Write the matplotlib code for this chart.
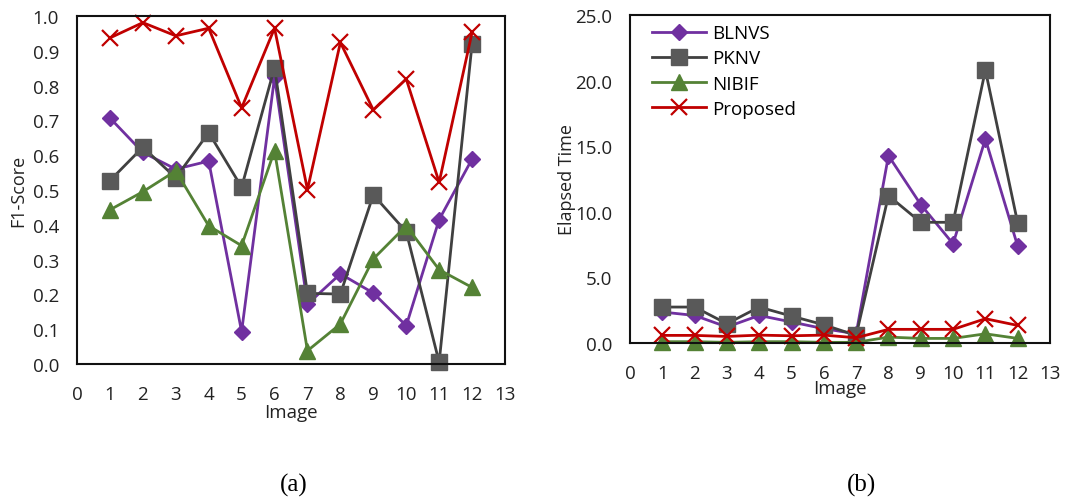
import matplotlib
matplotlib.use("Agg")
import matplotlib.pyplot as plt

plt.rcParams['font.family'] = ['Open Sans', 'DejaVu Sans']

images = list(range(1, 13))
series_names = ["BLNVS", "PKNV", "NIBIF", "Proposed"]

f1_blnvs = [0.707, 0.608, 0.56, 0.583, 0.093, 0.824, 0.172, 0.259, 0.204, 0.11, 0.415, 0.589]
f1_pknv = [0.527, 0.623, 0.535, 0.665, 0.508, 0.852, 0.203, 0.201, 0.486, 0.38, 0.005, 0.92]
f1_nibif = [0.443, 0.495, 0.555, 0.397, 0.34, 0.613, 0.038, 0.115, 0.302, 0.397, 0.271, 0.22]
f1_proposed = [0.937, 0.981, 0.943, 0.965, 0.736, 0.965, 0.501, 0.924, 0.73, 0.819, 0.522, 0.953]

t_blnvs = [2.36, 2.1, 1.22, 2.1, 1.6, 1.09, 0.7, 14.28, 10.55, 7.56, 15.55, 7.38]
t_pknv = [2.74, 2.74, 1.47, 2.74, 2.05, 1.39, 0.58, 11.23, 9.2, 9.2, 20.8, 9.15]
t_nibif = [0.1, 0.1, 0.05, 0.1, 0.1, 0.05, 0.05, 0.45, 0.35, 0.35, 0.7, 0.35]
t_proposed = [0.58, 0.58, 0.5, 0.6, 0.55, 0.6, 0.4, 1.04, 1.04, 1.04, 1.85, 1.34]

x_ticks = list(range(0, 14))
f1_ticks = [0.0, 0.1, 0.2, 0.3, 0.4, 0.5, 0.6, 0.7, 0.8, 0.9, 1.0]
t_ticks = [0.0, 5.0, 10.0, 15.0, 20.0, 25.0]

styles = {
    "BLNVS": dict(color="#7030A0", marker="D", markersize=8.5, lw=2.0),
    "PKNV": dict(color="#404040", marker="s", markersize=11, lw=2.0, mfc="#595959", mec="#595959"),
    "NIBIF": dict(color="#548235", marker="^", markersize=12, lw=2.0),
    "Proposed": dict(color="#C00000", marker="x", markersize=12, lw=2.0, mew=1.6),
}

W, H = 1078, 502
fig = plt.figure(figsize=(W / 100, H / 100), dpi=100)

def px_axes(l, t, r, b):
    return fig.add_axes([l / W, 1 - b / H, (r - l) / W, (b - t) / H])

ax1 = px_axes(77, 17, 505, 365)
ax2 = px_axes(630, 16, 1050, 344)

fs = 13.5
for ax, data, yt, ylim, ylabel, ylp, xlp, xpad in [
    (ax1, [f1_blnvs, f1_pknv, f1_nibif, f1_proposed], f1_ticks, (0, 1.0), "F1-Score", 4, 0, 15),
    (ax2, [t_blnvs, t_pknv, t_nibif, t_proposed], t_ticks, (0, 25), "Elapsed Time", -1, -2, 15),
]:
    for name, vals in zip(series_names, data):
        ax.plot(images, vals, label=name, clip_on=False, **styles[name])
    ax.set_xlim(0, 13)
    ax.set_ylim(*ylim)
    ax.set_xticks(x_ticks)
    ax.set_yticks(yt)
    ax.set_yticklabels([f"{v:.1f}" for v in yt])
    ax.tick_params(length=0, labelsize=fs, colors="#222222")
    ax.tick_params(axis="x", pad=xpad)
    ax.tick_params(axis="y", pad=13)
    ax.set_xlabel("Image", fontsize=fs, labelpad=xlp, color="#222222")
    ax.set_ylabel(ylabel, fontsize=fs - 0.5, labelpad=ylp, color="#222222")
    for s in ax.spines.values():
        s.set_linewidth(1.5)
        s.set_color("#111111")

ax2.legend(loc="upper left", bbox_to_anchor=(0.03, 1.0), frameon=False, fontsize=fs,
           handlelength=2.9, handletextpad=0.3, labelspacing=0.38, borderaxespad=0.1)

fig.text(294 / W, 1 - 485 / H, "(a)", family="Liberation Serif", fontsize=18, ha="center", va="center")
fig.text(861 / W, 1 - 485 / H, "(b)", family="Liberation Serif", fontsize=18, ha="center", va="center")

fig.savefig("out.png", dpi=100)
